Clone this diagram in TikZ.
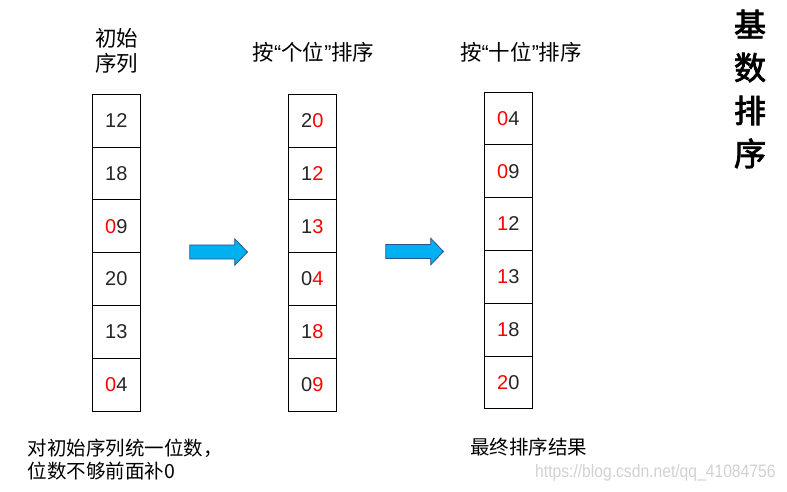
\documentclass[tikz,border=0pt]{standalone}
\usepackage{fontspec}
\setmainfont{Liberation Sans}
\newfontfamily\cjk{Noto Sans CJK SC}
\newfontfamily\cjktitle[FakeBold=2.5]{Noto Sans CJK SC}
\newfontfamily\markfont[FakeStretch=0.87]{Liberation Sans}
\usetikzlibrary{positioning}
\usetikzlibrary{shapes.arrows}
\definecolor{digred}{RGB}{255,0,0}
\definecolor{digtext}{RGB}{38,38,38}
\definecolor{arrowfill}{RGB}{0,176,240}
\definecolor{arrowline}{RGB}{47,82,143}
\newcommand{\rd}[1]{\textcolor{digred}{#1}}

\begin{document}
\begin{tikzpicture}[x=1pt,y=-1pt,
    cellbox/.style={draw,line width=.9pt,minimum width=48pt,minimum height=52.8pt,
        inner sep=0pt,outer sep=0pt,text=digtext,font=\fontsize{20}{24}\selectfont},
    blockarrow/.style={single arrow,draw=arrowline,fill=arrowfill,line width=.8pt,
        minimum height=57.7pt,text height=13.3pt,text depth=0pt,anchor=tail,
        single arrow head extend=6.2pt,single arrow tip angle=92,inner sep=0pt},
    label/.style={font=\cjk\fontsize{21.5}{25}\selectfont,align=center},
    note/.style={anchor=west,inner sep=0pt,font=\cjk\fontsize{19.5}{23}\selectfont}]
    \useasboundingbox (0,0) rectangle (787,491);
    % initial sequence
    \node[label] (initlabel) at (116.5,50.5) {初始\\序列};
    \node[cellbox] (a1) at (116.3,120.7) {12};
    \node[cellbox,below=0pt of a1] (a2) {18};
    \node[cellbox,below=0pt of a2] (a3) {\rd{0}9};
    \node[cellbox,below=0pt of a3] (a4) {20};
    \node[cellbox,below=0pt of a4] (a5) {13};
    \node[cellbox,below=0pt of a5] (a6) {\rd{0}4};
    % sorted by units digit
    \node[label] (unitlabel) at (313.5,52) {按{\rmfamily“}个位{\rmfamily”}排序};
    \node[cellbox] (b1) at (312.3,120.7) {2\rd{0}};
    \node[cellbox,below=0pt of b1] (b2) {1\rd{2}};
    \node[cellbox,below=0pt of b2] (b3) {1\rd{3}};
    \node[cellbox,below=0pt of b3] (b4) {0\rd{4}};
    \node[cellbox,below=0pt of b4] (b5) {1\rd{8}};
    \node[cellbox,below=0pt of b5] (b6) {0\rd{9}};
    % sorted by tens digit
    \node[label] (tenslabel) at (521,52) {按{\rmfamily“}十位{\rmfamily”}排序};
    \node[cellbox] (c1) at (508.3,118.4) {\rd{0}4};
    \node[cellbox,below=0pt of c1] (c2) {\rd{0}9};
    \node[cellbox,below=0pt of c2] (c3) {\rd{1}2};
    \node[cellbox,below=0pt of c3] (c4) {\rd{1}3};
    \node[cellbox,below=0pt of c4] (c5) {\rd{1}8};
    \node[cellbox,below=0pt of c5] (c6) {\rd{2}0};
    % arrows
    \node[blockarrow] (arrowA) at (189.4,252) {};
    \node[blockarrow] (arrowB) at (385.4,251.5) {};
    % notes
    \node[note,align=left] (leftnote) at (27.7,459.2) {对初始序列统一位数，\\位数不够前面补0};
    \node[note] (rightnote) at (470,446.7) {最终排序结果};
    \node[font=\cjktitle\fontsize{32}{43}\selectfont,align=center] (title)
        at (750,89) {基\\数\\排\\序};
    \node[anchor=west,inner sep=0pt,text=black!18,font=\markfont\fontsize{18}{20}\selectfont] (mark)
        at (535,473) {https://blog.csdn.net/qq\_41084756};
\end{tikzpicture}
\end{document}
